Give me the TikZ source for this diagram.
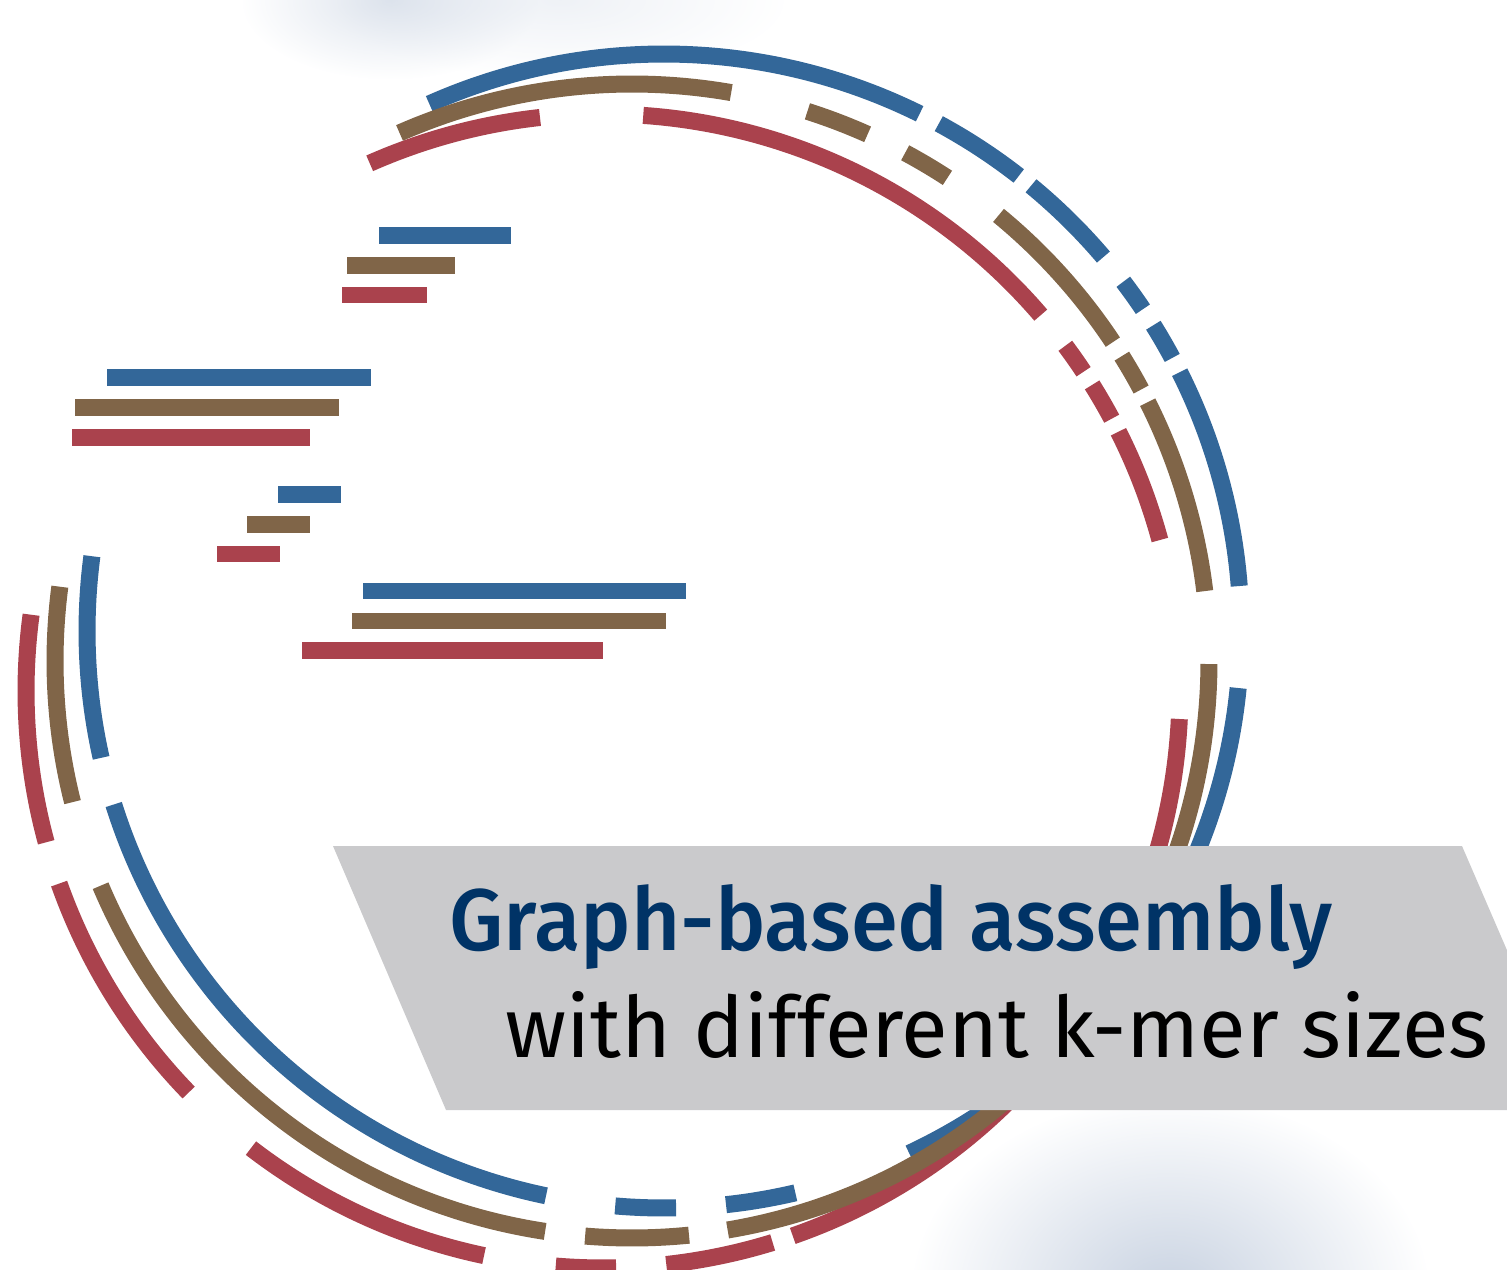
\documentclass[tikz,border=0pt]{standalone}
\usepackage{fontspec}
\usepackage{graphicx}
\usetikzlibrary{fadings}
\newfontfamily\titlefont{Fira Sans Medium}
\newfontfamily\subfont{Fira Sans}
\definecolor{arcblue}{RGB}{51,103,153}
\definecolor{arcbrown}{RGB}{128,101,72}
\definecolor{arcred}{RGB}{170,66,77}
\definecolor{bannergray}{RGB}{202,202,204}
\definecolor{titleblue}{RGB}{0,51,102}
\definecolor{shadowc}{RGB}{200,210,225}
\tikzfading[name=softfade, inner color=transparent!0, outer color=transparent!100]
\begin{document}
\begin{tikzpicture}[x=1pt,y=1pt,
  arcb/.style={draw=arcblue,line width=17pt},
  arcn/.style={draw=arcbrown,line width=17pt},
  arcr/.style={draw=arcred,line width=17pt},
  barb/.style={draw=arcblue,line width=16.7pt},
  barn/.style={draw=arcbrown,line width=16.7pt},
  barr/.style={draw=arcred,line width=16.7pt},
  shadowblob/.style={fill=shadowc, path fading=softfade}]
\useasboundingbox (0,0) rectangle (1507,-1269);
\clip (0,0) rectangle (1507,-1269);
% soft shadows
\fill[shadowblob, fill opacity=0.6] (390,0) ellipse [x radius=150, y radius=80];
\fill[shadowblob, fill opacity=0.3] (560,0) ellipse [x radius=230, y radius=80];
\fill[shadowblob, fill opacity=1] (1170,-1295) ellipse [x radius=260, y radius=200];
% circle centres
\coordinate (CB) at (664,-631);
\coordinate (CN) at (632,-661);
\coordinate (CR) at (603,-691);
% blue arcs
\foreach \a/\b in {114/63.7, 61.56/52.06, 50.5/40.4, 37.25/33.9, 32.0/28.25, 26.65/4.47, -5.67/-64.85, -76.84/-83.83, -88.8/-94.85, 258.2/197.5, 192.7/172.55}
  \draw[arcb] ([shift={(\a:577)}]CB) arc[start angle=\a, end angle=\b, radius=577];
% red arcs
\foreach \a/\b in {113.85/96.27, 86.0/40.65, 36.75/33.6, 32.04/28.16, 26.7/15.17, -2.78/-70.8, -72.9/-83.7, -88.7/-94.7, 258.1/232.4, 224.1/199.5, 195.2/172.4}
  \draw[arcr] ([shift={(\a:577)}]CR) arc[start angle=\a, end angle=\b, radius=577];
% brown arcs
\foreach \a/\b in {113.76/80.1, 72.3/65.9, 61.74/56.86, 50.56/33.55, 31.9/28.07, 26.65/6.96, -0.3/-80.46, -84.33/-94.66, 261.34/202.92, 194.16/172.6}
  \draw[arcn] ([shift={(\a:577)}]CN) arc[start angle=\a, end angle=\b, radius=577];
% bars
\draw[barb] (379,-235.5) -- (511,-235.5);
\draw[barn] (347,-265.5) -- (455,-265.5);
\draw[barr] (342,-295) -- (427,-295);
\draw[barb] (107,-377.5) -- (371,-377.5);
\draw[barn] (75,-407.5) -- (339,-407.5);
\draw[barr] (72,-437.5) -- (310,-437.5);
\draw[barb] (278,-494.5) -- (341,-494.5);
\draw[barn] (247,-524.5) -- (310,-524.5);
\draw[barr] (217,-554) -- (280,-554);
\draw[barb] (363,-591) -- (686,-591);
\draw[barn] (352,-621) -- (666,-621);
\draw[barr] (302,-650.5) -- (603,-650.5);
% banner
\fill[bannergray] (333,-846) -- (1462,-846) -- (1576,-1110) -- (446,-1110) -- cycle;
\node[anchor=base west, inner sep=0pt, text=titleblue] (title) at (449,-950)
  {\resizebox{883pt}{66pt}{\titlefont Graph-based assembly}};
\node[anchor=base west, inner sep=0pt, text=black] (subtitle) at (505,-1057)
  {\resizebox{983pt}{66pt}{\subfont with different k-mer sizes}};
\end{tikzpicture}
\end{document}
